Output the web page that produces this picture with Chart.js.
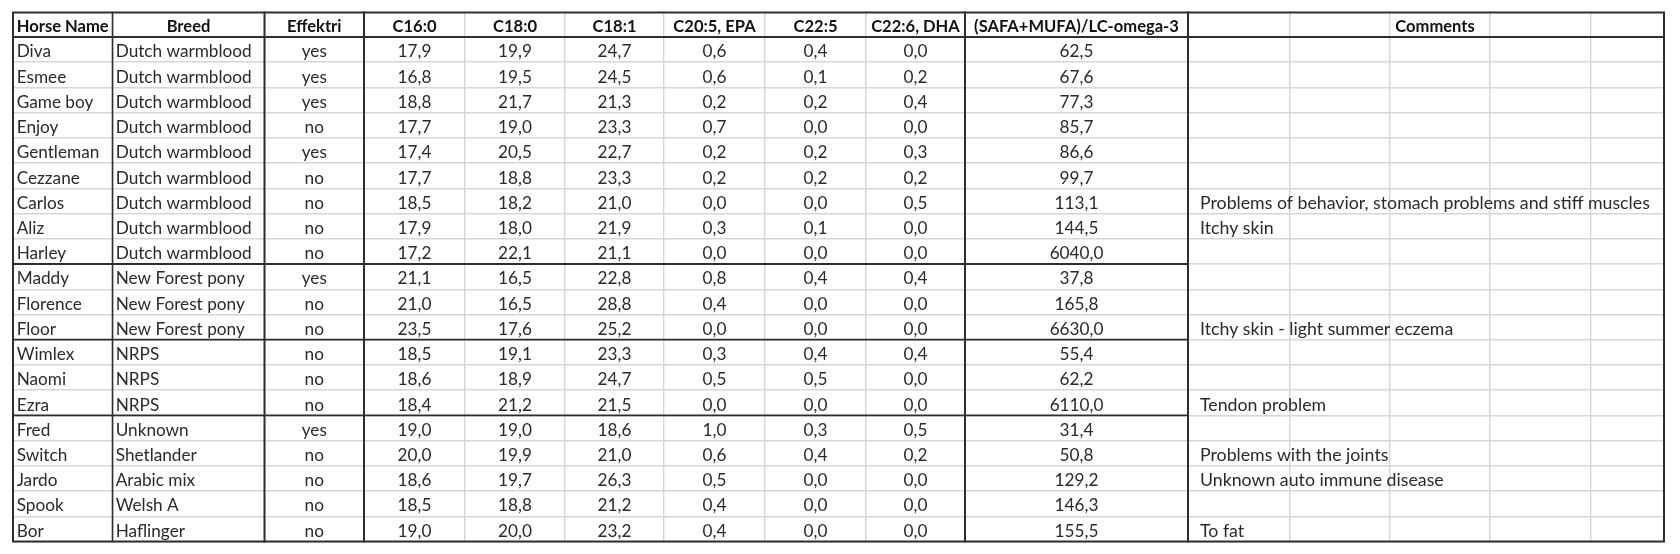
<!DOCTYPE html>
<html><head><meta charset="utf-8">
<script src="https://cdn.jsdelivr.net/npm/chart.js@4.4.1/dist/chart.umd.min.js"></script>
<style>html,body{margin:0;padding:0;background:#fff;}canvas{display:block}</style>
</head><body>
<canvas id="c" width="1680" height="554"></canvas>
<script>
// ---------- data ----------
const headers = ['Horse Name','Breed','Effektri','C16:0','C18:0','C18:1','C20:5, EPA','C22:5','C22:6, DHA','(SAFA+MUFA)/LC-omega-3','Comments'];
const horseNames = ['Diva','Esmee','Game boy','Enjoy','Gentleman','Cezzane','Carlos','Aliz','Harley','Maddy','Florence','Floor','Wimlex','Naomi','Ezra','Fred','Switch','Jardo','Spook','Bor'];
const breeds = ['Dutch warmblood','Dutch warmblood','Dutch warmblood','Dutch warmblood','Dutch warmblood','Dutch warmblood','Dutch warmblood','Dutch warmblood','Dutch warmblood','New Forest pony','New Forest pony','New Forest pony','NRPS','NRPS','NRPS','Unknown','Shetlander','Arabic mix','Welsh A','Haflinger'];
const effektri = ['yes','yes','yes','no','yes','no','no','no','no','yes','no','no','no','no','no','yes','no','no','no','no'];
const c16_0 = [17.9,16.8,18.8,17.7,17.4,17.7,18.5,17.9,17.2,21.1,21.0,23.5,18.5,18.6,18.4,19.0,20.0,18.6,18.5,19.0];
const c18_0 = [19.9,19.5,21.7,19.0,20.5,18.8,18.2,18.0,22.1,16.5,16.5,17.6,19.1,18.9,21.2,19.0,19.9,19.7,18.8,20.0];
const c18_1 = [24.7,24.5,21.3,23.3,22.7,23.3,21.0,21.9,21.1,22.8,28.8,25.2,23.3,24.7,21.5,18.6,21.0,26.3,21.2,23.2];
const c20_5epa = [0.6,0.6,0.2,0.7,0.2,0.2,0.0,0.3,0.0,0.8,0.4,0.0,0.3,0.5,0.0,1.0,0.6,0.5,0.4,0.4];
const c22_5 = [0.4,0.1,0.2,0.0,0.2,0.2,0.0,0.1,0.0,0.4,0.0,0.0,0.4,0.5,0.0,0.3,0.4,0.0,0.0,0.0];
const c22_6dha = [0.0,0.2,0.4,0.0,0.3,0.2,0.5,0.0,0.0,0.4,0.0,0.0,0.4,0.0,0.0,0.5,0.2,0.0,0.0,0.0];
const ratio = [62.5,67.6,77.3,85.7,86.6,99.7,113.1,144.5,6040.0,37.8,165.8,6630.0,55.4,62.2,6110.0,31.4,50.8,129.2,146.3,155.5];
const comments = ['','','','','','','Problems of behavior, stomach problems and stiff muscles','Itchy skin','','','','Itchy skin - light summer eczema','','','Tendon problem','','Problems with the joints','Unknown auto immune disease','','To fat'];
const groupBreaks = [9, 12, 15];   // rows after which a breed group ends

// ---------- layout (x units = px from table left edge) ----------
const colEdges = [0, 99.5, 251.5, 351, 452, 552, 651, 752, 853, 952, 1175, 1651];
const commentGrid = [1277, 1377, 1477, 1578];
const thickColIdx = [2, 3, 9, 10];
const leftAligned = [0, 1, 10];
const leftIndent = { 0: 3.7, 1: 3.2, 10: 12 };
const commentsHeaderX = 1422;

const fmt = v => v.toFixed(1).replace('.', ',');
const columns = [horseNames, breeds, effektri, c16_0.map(fmt), c18_0.map(fmt), c18_1.map(fmt),
  c20_5epa.map(fmt), c22_5.map(fmt), c22_6dha.map(fmt), ratio.map(fmt), comments];

// font sizes fitted to the reference text widths
const mctx = document.createElement('canvas').getContext('2d');
function fit(weight, family, text, target) {
  mctx.font = `${weight} 100px ${family}`;
  return 100 * target / mctx.measureText(text).width;
}
const FAMILY = 'Lato, "Open Sans", sans-serif';
const bodySize = fit('400', FAMILY, 'Dutch warmblood', 136);
const commentSize = fit('400', FAMILY, 'Problems of behavior, stomach problems and stiff muscles', 450);
const headSize = fit('700', FAMILY, '(SAFA+MUFA)/LC-omega-3', 205);

function anchorX(c) {
  return leftAligned.includes(c) ? colEdges[c] + leftIndent[c] : (colEdges[c] + colEdges[c + 1]) / 2;
}

const datasets = columns.map((col, c) => ({
  label: headers[c],
  data: col.map((t, r) => ({ x: anchorX(c), y: r + 1 })),
  texts: col,
  align: leftAligned.includes(c) ? 'left' : 'center',
  weight: '400', size: c === 10 ? commentSize : bodySize, color: '#2a2a2a',
  pointRadius: 0, showLine: false
}));
datasets.push({
  label: 'header',
  data: headers.map((h, c) => ({ x: c === 10 ? commentsHeaderX : (colEdges[c] + colEdges[c + 1]) / 2, y: 0 })),
  texts: headers, align: 'center', weight: '700', size: headSize, color: '#111111',
  pointRadius: 0, showLine: false
});

const textPlugin = {
  id: 'cellText',
  afterDatasetsDraw(chart) {
    const ctx = chart.ctx;
    ctx.save();
    chart.data.datasets.forEach((ds, i) => {
      const meta = chart.getDatasetMeta(i);
      ctx.font = `${ds.weight} ${ds.size}px ${FAMILY}`;
      ctx.fillStyle = ds.color;
      ctx.textAlign = ds.align;
      ctx.textBaseline = 'alphabetic';
      meta.data.forEach((pt, j) => {
        const t = ds.texts[j];
        if (t) ctx.fillText(t, pt.x, pt.y - 4.8);
      });
    });
    ctx.restore();
  }
};

const borderPlugin = {
  id: 'borders',
  afterDraw(chart) {
    const { ctx, scales: { x, y } } = chart;
    const X = v => x.getPixelForValue(v), Y = v => y.getPixelForValue(v);
    const top = Y(y.min), bot = Y(20), left = X(0), right = X(1651);
    ctx.save();
    ctx.strokeStyle = '#2e2e2e';
    ctx.lineCap = 'square';
    const seg = (x1, y1, x2, y2, w) => { ctx.lineWidth = w; ctx.beginPath(); ctx.moveTo(x1, y1); ctx.lineTo(x2, y2); ctx.stroke(); };
    seg(X(colEdges[1]), top, X(colEdges[1]), bot, 1.6);
    thickColIdx.forEach(c => seg(X(colEdges[c]), top, X(colEdges[c]), bot, 2));
    seg(left, Y(0), right, Y(0), 2);
    groupBreaks.forEach(r => seg(left, Y(r), X(colEdges[10]), Y(r), 1.8));
    ctx.lineWidth = 2;
    ctx.strokeRect(left, top, right - left, bot - top);
    ctx.restore();
  }
};

const gridX = colEdges.concat(commentGrid);
const gridY = Array.from({ length: 21 }, (_, i) => i);

new Chart(document.getElementById('c'), {
  type: 'scatter',
  data: { datasets },
  options: {
    responsive: false, animation: false, events: [],
    layout: { padding: { left: 13, right: 16, top: 12.5, bottom: 12.5 } },
    plugins: { legend: { display: false }, tooltip: { enabled: false } },
    scales: {
      x: {
        type: 'linear', min: 0, max: 1651,
        afterBuildTicks: s => { s.ticks = gridX.map(v => ({ value: v })); },
        afterFit: s => { s.height = 0; },
        ticks: { display: false },
        border: { display: false },
        grid: { color: '#d6d6d6', lineWidth: 1.4, drawTicks: false }
      },
      y: {
        type: 'linear', min: -0.97, max: 20, reverse: true,
        afterBuildTicks: s => { s.ticks = gridY.map(v => ({ value: v })); },
        afterFit: s => { s.width = 0; },
        ticks: { display: false },
        border: { display: false },
        grid: { color: '#d6d6d6', lineWidth: 1.4, drawTicks: false }
      }
    }
  },
  plugins: [textPlugin, borderPlugin]
});
</script>
</body></html>
